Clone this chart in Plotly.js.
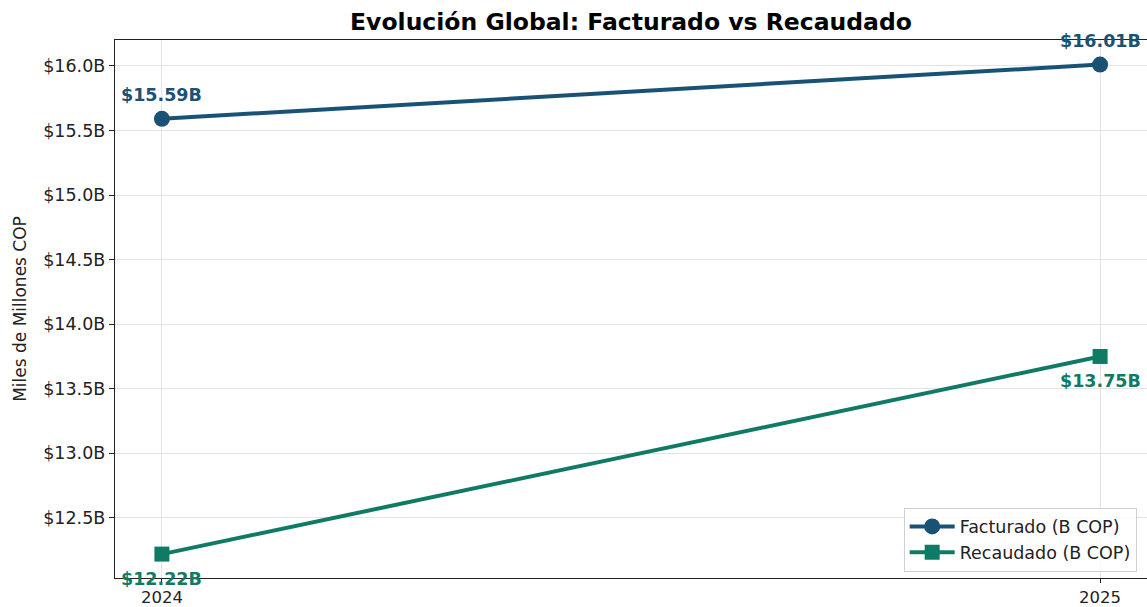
<!DOCTYPE html>
<html>
<head>
<meta charset="utf-8">
<script src="https://cdn.plot.ly/plotly-3.0.1.min.js"></script>
<style>html,body{margin:0;padding:0;background:#fff}</style>
</head>
<body>
<div id="chart" style="width:1147px;height:607px"></div>
<script>
const years = [2024, 2025];
const facturado = [15.59, 16.01];
const recaudado = [12.22, 13.75];
const yTicks = [12.5, 13.0, 13.5, 14.0, 14.5, 15.0, 15.5, 16.0];
const yTickText = yTicks.map(v => '$' + v.toFixed(1) + 'B');

const colorF = '#1a5276';
const colorR = '#117a65';
const FONT = 'DejaVu Sans, sans-serif';

const traces = [
  {
    x: years, y: facturado, name: 'Facturado (B COP)', mode: 'lines+markers',
    line: {color: colorF, width: 4},
    marker: {color: colorF, size: 16, symbol: 'circle'},
    hoverinfo: 'skip'
  },
  {
    x: years, y: recaudado, name: 'Recaudado (B COP)', mode: 'lines+markers',
    line: {color: colorR, width: 4},
    marker: {color: colorR, size: 15, symbol: 'square'},
    hoverinfo: 'skip'
  }
];

const fmt = v => '$' + v.toFixed(2) + 'B';
const annotations = [];
years.forEach((yr, i) => {
  annotations.push({x: yr, y: facturado[i], text: '<b>' + fmt(facturado[i]) + '</b>', showarrow: false,
    yshift: 24, font: {family: FONT, size: 17.5, color: colorF}, xanchor: 'center', yanchor: 'middle'});
  annotations.push({x: yr, y: recaudado[i], text: '<b>' + fmt(recaudado[i]) + '</b>', showarrow: false,
    yshift: -25, font: {family: FONT, size: 17.5, color: colorR}, xanchor: 'center', yanchor: 'middle'});
});

const layout = {
  width: 1147, height: 607,
  margin: {l: 115, r: 0, t: 40, b: 29, pad: 0},
  paper_bgcolor: '#fff', plot_bgcolor: '#fff',
  font: {family: FONT, size: 17, color: '#222'},
  title: {text: '<b>Evolución Global: Facturado vs Recaudado</b>', font: {family: FONT, size: 23.5, color: '#000'},
    x: 0.5, xanchor: 'center', y: 1 - 22/607, yanchor: 'middle', yref: 'container', xref: 'paper'},
  xaxis: {
    range: [2023.95, 2025.05], tickvals: years, ticktext: years.map(String),
    showgrid: true, gridcolor: '#e3e3e3', gridwidth: 1,
    showline: true, linecolor: '#222', linewidth: 1.2, mirror: true,
    ticks: 'outside', ticklen: 4, tickcolor: '#222', zeroline: false,
    tickfont: {family: FONT, size: 16.5, color: '#222'}
  },
  yaxis: {
    range: [12.035, 16.2], tickvals: yTicks, ticktext: yTickText,
    showgrid: true, gridcolor: '#e3e3e3', gridwidth: 1,
    showline: true, linecolor: '#222', linewidth: 1.2,
    ticks: 'outside', ticklen: 5, tickcolor: '#222', zeroline: false,
    tickfont: {family: FONT, size: 17.5, color: '#222'},
    title: {text: 'Miles de Millones COP', font: {family: FONT, size: 17, color: '#222'}, standoff: 12}
  },
  legend: {
    x: 0.99, y: 0.012, xanchor: 'right', yanchor: 'bottom',
    bgcolor: 'rgba(255,255,255,0.85)', bordercolor: '#d0d0d0', borderwidth: 1,
    font: {family: FONT, size: 17.5, color: '#222'}, tracegroupgap: 0, itemwidth: 45
  },
  annotations: annotations,
  showlegend: true
};

Plotly.newPlot('chart', traces, layout, {staticPlot: true, displayModeBar: false});
</script>
</body>
</html>
